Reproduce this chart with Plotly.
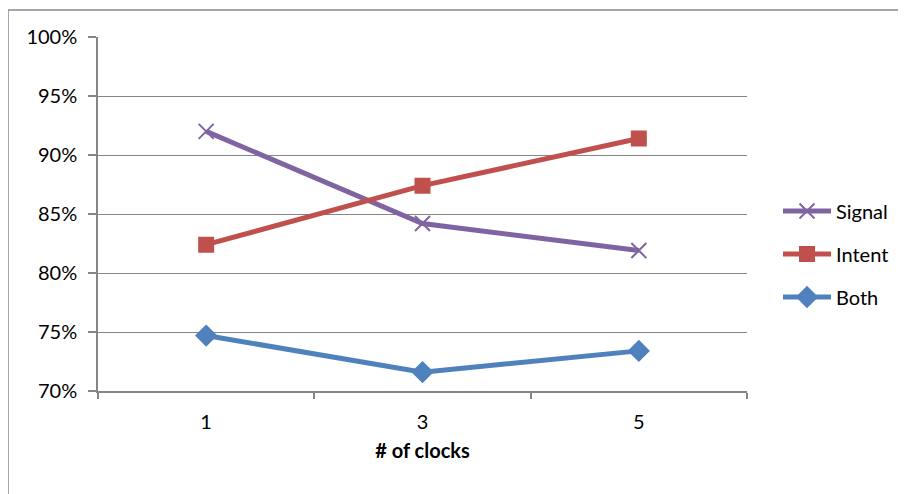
import plotly.graph_objects as go

clocks = [1, 3, 5]
clock_labels = ["1", "3", "5"]
signal = [92.0, 84.2, 81.9]
intent = [82.4, 87.4, 91.4]
both = [74.7, 71.6, 73.4]
y_ticks = [70, 75, 80, 85, 90, 95, 100]
y_tick_labels = ["70%", "75%", "80%", "85%", "90%", "95%", "100%"]

FONT = "Lato"
W, H = 906, 494
OFF = 8  # page body margin
PL, PR, PT, PB = 98, 747, 37, 391  # plot area in page pixels
L, T = PL - OFF, PT - OFF
R, B = W - (PR - OFF), H - (PB - OFF)

fig = go.Figure()
series = [
    ("Signal", signal, "#8064A2", "x-thin", 15),
    ("Intent", intent, "#C0504D", "square", 14),
    ("Both", both, "#4F81BD", "diamond", 15),
]
for name, vals, color, sym, sz in series:
    fig.add_trace(go.Scatter(
        x=clocks, y=vals, name=name, mode="lines+markers",
        legendgroup=name,
        line=dict(color=color, width=5),
        marker=dict(symbol=sym, size=sz, color=color,
                    line=dict(color=color, width=2)),
    ))

pw = PR - PL
ph = PB - PT
fig.add_shape(type="rect", xref="paper", yref="paper",
              x0=(8 - PL) / pw, x1=1.6, y0=-0.6, y1=(PB - 10) / ph,
              line=dict(color="#8a8a8a", width=1.5), fillcolor="rgba(0,0,0,0)",
              layer="below")

fig.update_layout(
    width=W, height=H,
    margin=dict(l=L, r=R, t=T, b=B, pad=0),
    paper_bgcolor="white", plot_bgcolor="white",
    font=dict(family=FONT, size=20, color="#000000"),
    showlegend=True,
    legend=dict(x=(778 - PL) / pw, y=(PB - 254) / ph, xanchor="left", yanchor="middle",
                font=dict(family=FONT, size=20), tracegroupgap=14, itemwidth=48,
                bgcolor="rgba(0,0,0,0)"),
    xaxis=dict(
        range=[0, 6], tickvals=clocks, ticktext=clock_labels, ticks="",
        showgrid=False, zeroline=False, ticklabelstandoff=12,
        showline=True, linecolor="#868686", linewidth=1.5,
        minor=dict(tick0=0, dtick=2, ticks="outside", ticklen=6, tickcolor="#868686", tickwidth=1.5, showgrid=False),
        title=dict(text="<b># of clocks</b>", font=dict(family=FONT, size=20), standoff=12),
        tickfont=dict(family=FONT, size=20),
    ),
    yaxis=dict(
        range=[70, 100], tickvals=y_ticks, ticktext=y_tick_labels,
        ticks="outside", ticklen=8, tickcolor="#868686", tickwidth=1.5,
        ticklabelstandoff=7,
        showgrid=True, gridcolor="#868686", gridwidth=1.3,
        zeroline=False, showline=True, linecolor="#868686", linewidth=1.5,
        tickfont=dict(family=FONT, size=20),
    ),
)

fig.write_html("out.html")
